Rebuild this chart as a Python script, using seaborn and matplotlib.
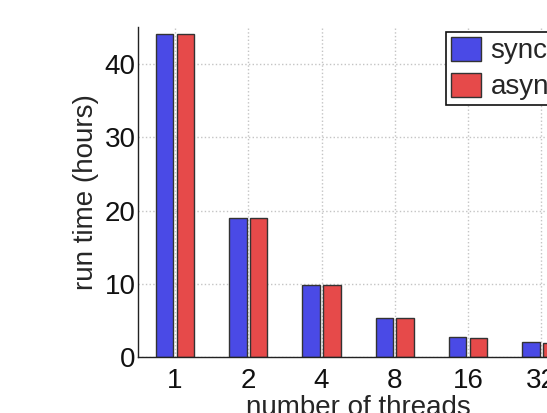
import matplotlib
matplotlib.use("Agg")
import matplotlib.pyplot as plt
import seaborn as sns
import pandas as pd

threads = ["1", "2", "4", "8", "16", "32"]
sync_hours = [44.0, 19.0, 9.9, 5.4, 2.8, 2.1]
async_hours = [44.0, 19.0, 9.8, 5.3, 2.6, 2.0]
series_names = ["synchronous", "asynchronous"]
colors = ["#4a4ae6", "#e64a4a"]

df = pd.DataFrame({
    "threads": threads * 2,
    "hours": sync_hours + async_hours,
    "mode": [series_names[0]] * len(threads) + [series_names[1]] * len(threads),
})

sns.set_style("white")
plt.rcParams["font.family"] = ["Liberation Sans", "DejaVu Sans"]

W, H = 547, 413
fig = plt.figure(figsize=(W / 100, H / 100), dpi=100)
left, right, top, bottom = 138.3, 578.0, 27.0, 357.3
ax = fig.add_axes([left / W, 1 - bottom / H, (right - left) / W, (bottom - top) / H])

sns.barplot(data=df, x="threads", y="hours", hue="mode", order=threads,
            hue_order=series_names, palette=colors, width=0.57, gap=0.16,
            edgecolor="#333333", linewidth=1.0, saturation=1, ax=ax)

ax.set_xlim(-0.5, len(threads) - 0.5)
ax.set_ylim(0, 45)
ax.set_yticks([0, 10, 20, 30, 40])
ax.set_axisbelow(True)
ax.grid(True, axis="both", linestyle=":", color="#c4c4c4", linewidth=1.0)

for s in ["top", "right"]:
    ax.spines[s].set_visible(False)
for s in ["left", "bottom"]:
    ax.spines[s].set_color("#222222")
    ax.spines[s].set_linewidth(1.0)

ax.tick_params(axis="both", direction="in", length=3, width=0.8, labelsize=20,
               colors="#111111")
ax.tick_params(axis="x", pad=7.5)
ax.tick_params(axis="y", pad=2)
ax.set_xlabel("number of threads", fontsize=20, labelpad=1)
ax.set_ylabel("run time (hours)", fontsize=20, labelpad=4)

handles, labels = ax.get_legend_handles_labels()
if ax.get_legend() is not None:
    ax.get_legend().remove()
leg = fig.legend(handles, labels, loc="upper left",
                 bbox_to_anchor=(445.7 / W, 1 - 31.7 / H),
                 bbox_transform=fig.transFigure, borderaxespad=0,
                 fontsize=20, frameon=True, fancybox=False, framealpha=1,
                 edgecolor="#111111", handlelength=1.08, handleheight=0.96,
                 labelspacing=0.3, borderpad=0.18, handletextpad=0.35)
leg.get_frame().set_linewidth(1.2)

fig.savefig("out.png", dpi=100)
